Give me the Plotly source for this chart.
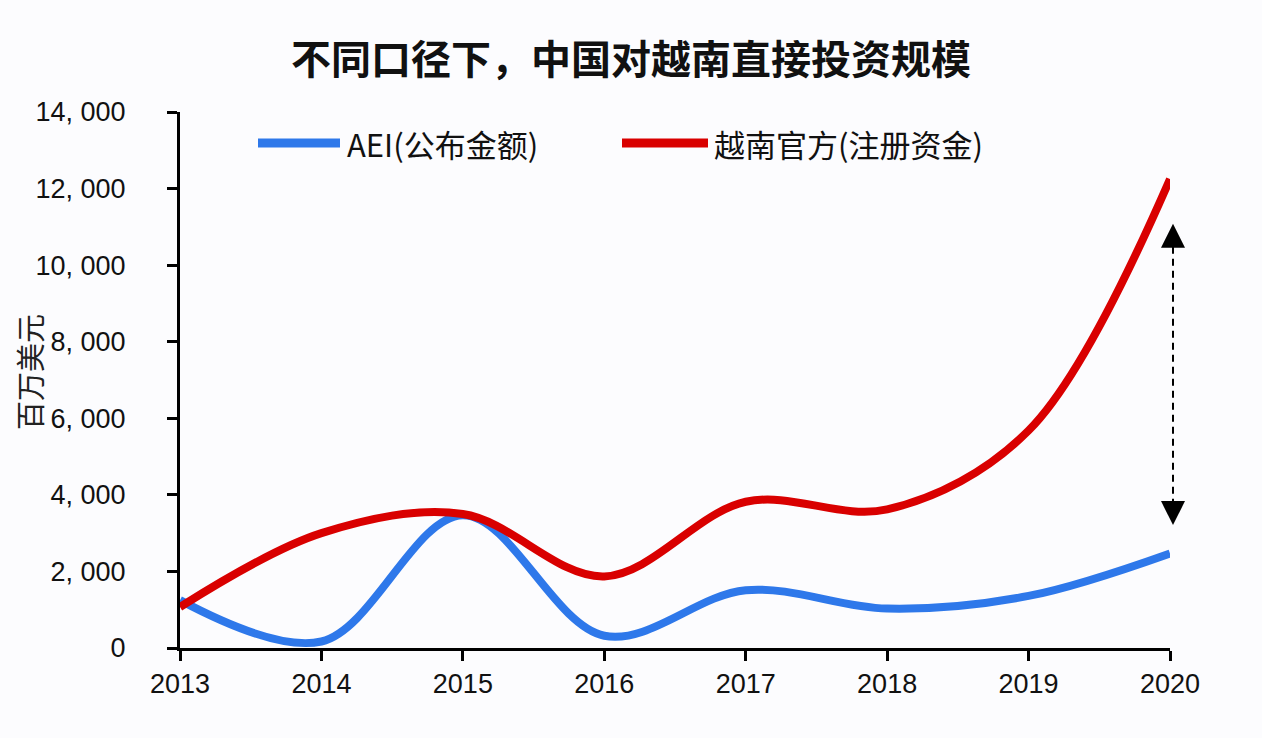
import plotly.graph_objects as go

years = [2013, 2014, 2015, 2016, 2017, 2018, 2019, 2020]
aei_values = [1250, 170, 3470, 320, 1510, 1030, 1360, 2470]
vn_values = [1070, 3000, 3500, 1870, 3820, 3620, 5680, 12250]
y_ticks = [0, 2000, 4000, 6000, 8000, 10000, 12000, 14000]
y_ticktext = ["0", "2, 000", "4, 000", "6, 000", "8, 000", "10, 000", "12, 000", "14, 000"]
series_names = ["AEI(公布金额)", "越南官方(注册资金)"]
title_text = "不同口径下，中国对越南直接投资规模"
y_title = "百万美元"
arrow_top, arrow_bottom = 11080, 3210

BLUE = "#2E78EA"
RED = "#D90000"
BG = "#FCFCFE"
CJK = "Noto Sans CJK SC"
LAT = "Liberation Sans, Arial"

fig = go.Figure()
fig.add_trace(go.Scatter(x=years, y=aei_values, mode="lines", name=series_names[0],
                         line=dict(color=BLUE, width=8, shape="spline", smoothing=1.0),
                         showlegend=False))
fig.add_trace(go.Scatter(x=years, y=vn_values, mode="lines", name=series_names[1],
                         line=dict(color=RED, width=8, shape="spline", smoothing=1.0),
                         showlegend=False))

L, R, T, B = 180, 92, 112, 90
W, H = 1262, 738
pw, ph = W - L - R, H - T - B

def px_x(p):
    return (p - L) / pw

def px_y(p):
    return (H - B - p) / ph

shapes = []
annotations = []

# manual legend
legend_y = px_y(143)
for (x0, x1, tx, color, name) in [(258, 340, 345, BLUE, series_names[0]),
                                   (622, 708, 712, RED, series_names[1])]:
    shapes.append(dict(type="line", xref="paper", yref="paper", x0=px_x(x0), x1=px_x(x1),
                       y0=legend_y, y1=legend_y, line=dict(color=color, width=9)))
    annotations.append(dict(xref="paper", yref="paper", x=px_x(tx), y=legend_y, text=name,
                            showarrow=False, xanchor="left", yanchor="middle",
                            font=dict(family=CJK, size=31, color="#111111")))

# dashed double arrow
ax = px_x(1173)
shapes.append(dict(type="line", xref="paper", yref="y", x0=ax, x1=ax,
                   y0=arrow_top - 600, y1=arrow_bottom + 600,
                   line=dict(color="black", width=2, dash="7px,5px")))
shapes.append(dict(type="path", xref="paper", yref="y", xsizemode="pixel", ysizemode="pixel",
                   xanchor=ax, yanchor=arrow_top, path="M0,0 L-12,-24 L12,-24 Z",
                   fillcolor="black", line=dict(width=0)))
shapes.append(dict(type="path", xref="paper", yref="y", xsizemode="pixel", ysizemode="pixel",
                   xanchor=ax, yanchor=arrow_bottom, path="M0,0 L-12,24 L12,24 Z",
                   fillcolor="black", line=dict(width=0)))

# y axis title
annotations.append(dict(xref="paper", yref="paper", x=px_x(29), y=px_y(372), text=y_title,
                        textangle=-90, showarrow=False, xanchor="center", yanchor="middle",
                        font=dict(family=CJK, size=29, color="#222222")))

fig.update_layout(
    width=W, height=H,
    margin=dict(l=L, r=R, t=T, b=B),
    paper_bgcolor=BG, plot_bgcolor=BG,
    title=dict(text="<b>" + title_text + "</b>", x=0.5, xanchor="center", y=1 - 60 / H,
               yanchor="middle", font=dict(family=CJK, size=40, color="#111111")),
    shapes=shapes, annotations=annotations,
    xaxis=dict(range=[2013, 2020], tickvals=years, ticktext=[str(y) for y in years],
               showgrid=False, zeroline=False, showline=True, linecolor="black", linewidth=3,
               ticks="outside", ticklen=10, tickwidth=3, tickcolor="black",
               tickfont=dict(family=LAT, size=27, color="#111111")),
    yaxis=dict(range=[0, 14000], tickvals=y_ticks, ticktext=y_ticktext,
               showgrid=False, zeroline=False, showline=True, linecolor="black", linewidth=3,
               ticks="outside", ticklen=10, tickwidth=3, tickcolor="black",
               ticklabelstandoff=36,
               tickfont=dict(family=LAT, size=27, color="#111111")),
)

fig.write_html("out.html")
